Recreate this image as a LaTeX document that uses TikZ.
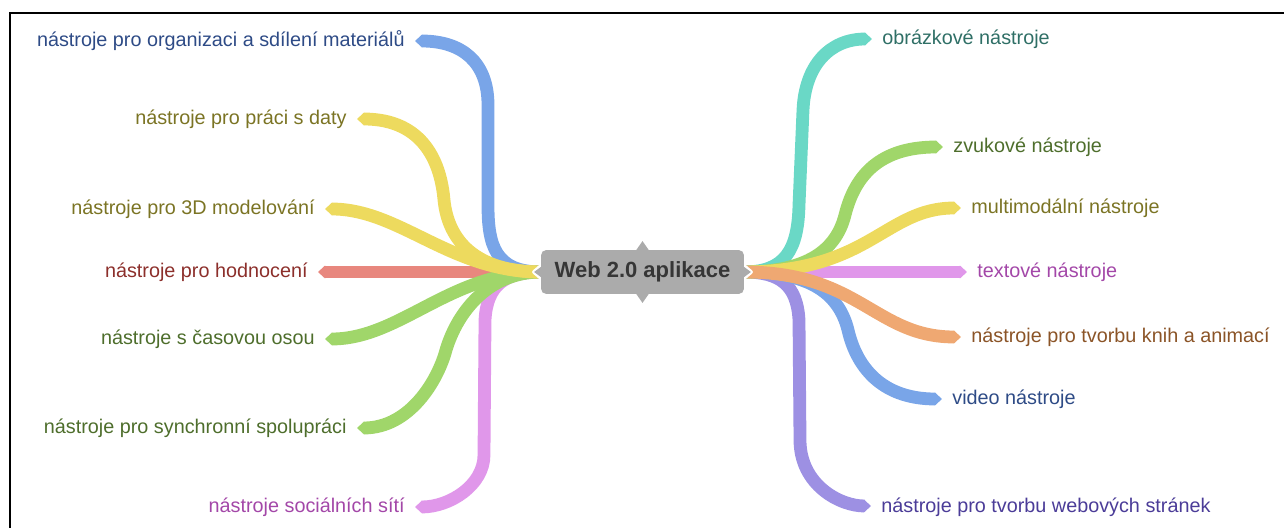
\documentclass[tikz,border=0pt]{standalone}
\usepackage{fontspec}
\setmainfont{Liberation Sans}
\usetikzlibrary{arrows.meta,calc}
\definecolor{sBlue}{HTML}{79A5E8}
\definecolor{sYellow}{HTML}{EDDA5E}
\definecolor{sRed}{HTML}{E8877E}
\definecolor{sGreen}{HTML}{A0D66A}
\definecolor{sPink}{HTML}{E097EA}
\definecolor{sTeal}{HTML}{6AD8C6}
\definecolor{sOrange}{HTML}{EFA872}
\definecolor{sPurple}{HTML}{9D90E3}
\definecolor{tBlue}{HTML}{2E4B86}
\definecolor{tYellow}{HTML}{7B7424}
\definecolor{tRed}{HTML}{8C2F2B}
\definecolor{tGreen}{HTML}{4E6E2C}
\definecolor{tPink}{HTML}{A347A8}
\definecolor{tTeal}{HTML}{2F6F66}
\definecolor{tOrange}{HTML}{8B5427}
\definecolor{tPurple}{HTML}{4B3C98}
\definecolor{hubgray}{HTML}{ABABAB}
\definecolor{hubtext}{HTML}{363636}
\pgfdeclarelayer{bg}
\pgfdeclarelayer{mid}
\pgfsetlayers{bg,mid,main}
\begin{document}
\begin{tikzpicture}[x=0.5pt,y=-0.5pt,
  br/.style={line width=6.4pt, -{Triangle[length=3.6pt,width=6.4pt]}},
  lab/.style={inner sep=0pt, font=\fontsize{9.9pt}{12pt}\selectfont},
  labL/.style={lab, anchor=base east},
  labR/.style={lab, anchor=base west}]
\useasboundingbox (0,0) rectangle (1284,528);
\draw[line width=1pt] (10,528) -- (10,13) -- (1284,13);

% hub
\node[inner sep=0pt, minimum width=101pt, minimum height=21.5pt, text=hubtext,
      font=\bfseries\fontsize{11pt}{13pt}\selectfont] (c) at (642.5,272) {Web 2.0 aplikace};

% tips and labels, left
\coordinate (t1) at (415,41);
\coordinate (t2) at (357,119);
\coordinate (t3) at (325,209);
\coordinate (t4) at (318,272);
\coordinate (t5) at (325,339);
\coordinate (t6) at (357,428);
\coordinate (t7) at (415,507);
\node[labL, text=tBlue]   (l1) at ($(t1)+(-10,6)$) {nástroje pro organizaci a sdílení materiálů};
\node[labL, text=tYellow] (l2) at ($(t2)+(-10,6)$) {nástroje pro práci s daty};
\node[labL, text=tYellow] (l3) at ($(t3)+(-10,6)$) {nástroje pro 3D modelování};
\node[labL, text=tRed]    (l4) at ($(t4)+(-10,6)$) {nástroje pro hodnocení};
\node[labL, text=tGreen]  (l5) at ($(t5)+(-10,6)$) {nástroje s časovou osou};
\node[labL, text=tGreen]  (l6) at ($(t6)+(-10,6)$) {nástroje pro synchronní spolupráci};
\node[labL, text=tPink]   (l7) at ($(t7)+(-10,6)$) {nástroje sociálních sítí};

% tips and labels, right
\coordinate (r1) at (872,39);
\coordinate (r2) at (943,147);
\coordinate (r3) at (961,208);
\coordinate (r4) at (967,272);
\coordinate (r5) at (961,337);
\coordinate (r6) at (942,399);
\coordinate (r7) at (871,506);
\node[labR, text=tTeal]   (q1) at ($(r1)+(10,6)$) {obrázkové nástroje};
\node[labR, text=tGreen]  (q2) at ($(r2)+(10,6)$) {zvukové nástroje};
\node[labR, text=tYellow] (q3) at ($(r3)+(10,6)$) {multimodální nástroje};
\node[labR, text=tPink]   (q4) at ($(r4)+(10,6)$) {textové nástroje};
\node[labR, text=tOrange] (q5) at ($(r5)+(10,6)$) {nástroje pro tvorbu knih a animací};
\node[labR, text=tBlue]   (q6) at ($(r6)+(10,6)$) {video nástroje};
\node[labR, text=tPurple] (q7) at ($(r7)+(10,6)$) {nástroje pro tvorbu webových stránek};

\begin{pgfonlayer}{bg}
% left branches
\draw[br, sBlue] (c.west) .. controls (495,272) and (488,245) .. (488,205) -- (488,105)
   .. controls (488,62) and (462,41) .. (t1);
\draw[br, sPink] (c.west) .. controls (505,272) and (487,285) .. (485,320) -- (484,455)
   .. controls (484,485) and (450,507) .. (t7);
\draw[br, sRed] (c.west) -- (t4);
\draw[br, sGreen] (c.west) .. controls (490,272) and (458,310) .. (446,350)
   .. controls (438,380) and (410,428) .. (t6);
\draw[br, sGreen] (c.west) .. controls (450,272) and (400,339) .. (t5);
\draw[br, sYellow] (c.west) .. controls (475,272) and (448,240) .. (444,200)
   .. controls (441,165) and (425,119) .. (t2);
\draw[br, sYellow] (c.west) .. controls (450,272) and (400,209) .. (t3);
% right branches
\draw[br, sPurple] (c.east) .. controls (780,272) and (797,285) .. (799,320) -- (800,440)
   .. controls (800,485) and (840,506) .. (r7);
\draw[br, sBlue] (c.east) .. controls (805,272) and (838,290) .. (848,330)
   .. controls (856,365) and (880,399) .. (r6);
\draw[br, sTeal] (c.east) .. controls (785,272) and (798,250) .. (799,205) -- (803,110)
   .. controls (805,65) and (830,39) .. (r1);
\draw[br, sGreen] (c.east) .. controls (800,272) and (835,255) .. (845,215)
   .. controls (855,175) and (880,147) .. (r2);
\draw[br, sPink] (c.east) -- (r4);
\draw[br, sYellow] (c.east) .. controls (870,272) and (885,208) .. (r3);
\draw[br, sOrange] (c.east) .. controls (860,272) and (875,337) .. (r5);
\end{pgfonlayer}

\begin{pgfonlayer}{mid}
\draw[white, line width=2pt, line join=round, rounded corners=2.5pt] (c.north west) rectangle (c.south east);
\draw[white, line width=2pt, line join=round]
  ($(c.north)+(-7,0)$) -- ($(c.north)+(0,-9)$) -- ($(c.north)+(7,0)$)
  ($(c.south)+(-7,0)$) -- ($(c.south)+(0,9)$) -- ($(c.south)+(7,0)$)
  ($(c.west)+(0,-6)$) -- ($(c.west)+(-7,0)$) -- ($(c.west)+(0,6)$)
  ($(c.east)+(0,-6)$) -- ($(c.east)+(7,0)$) -- ($(c.east)+(0,6)$);
\fill[hubgray, rounded corners=2.5pt] (c.north west) rectangle (c.south east);
\fill[hubgray] ($(c.north)+(-7,1)$) -- ($(c.north)+(0,-9)$) -- ($(c.north)+(7,1)$) -- cycle;
\fill[hubgray] ($(c.south)+(-7,-1)$) -- ($(c.south)+(0,9)$) -- ($(c.south)+(7,-1)$) -- cycle;
\fill[hubgray] ($(c.west)+(1,-6)$) -- ($(c.west)+(-7,0)$) -- ($(c.west)+(1,6)$) -- cycle;
\fill[hubgray] ($(c.east)+(-1,-6)$) -- ($(c.east)+(7,0)$) -- ($(c.east)+(-1,6)$) -- cycle;
\end{pgfonlayer}
\end{tikzpicture}
\end{document}
